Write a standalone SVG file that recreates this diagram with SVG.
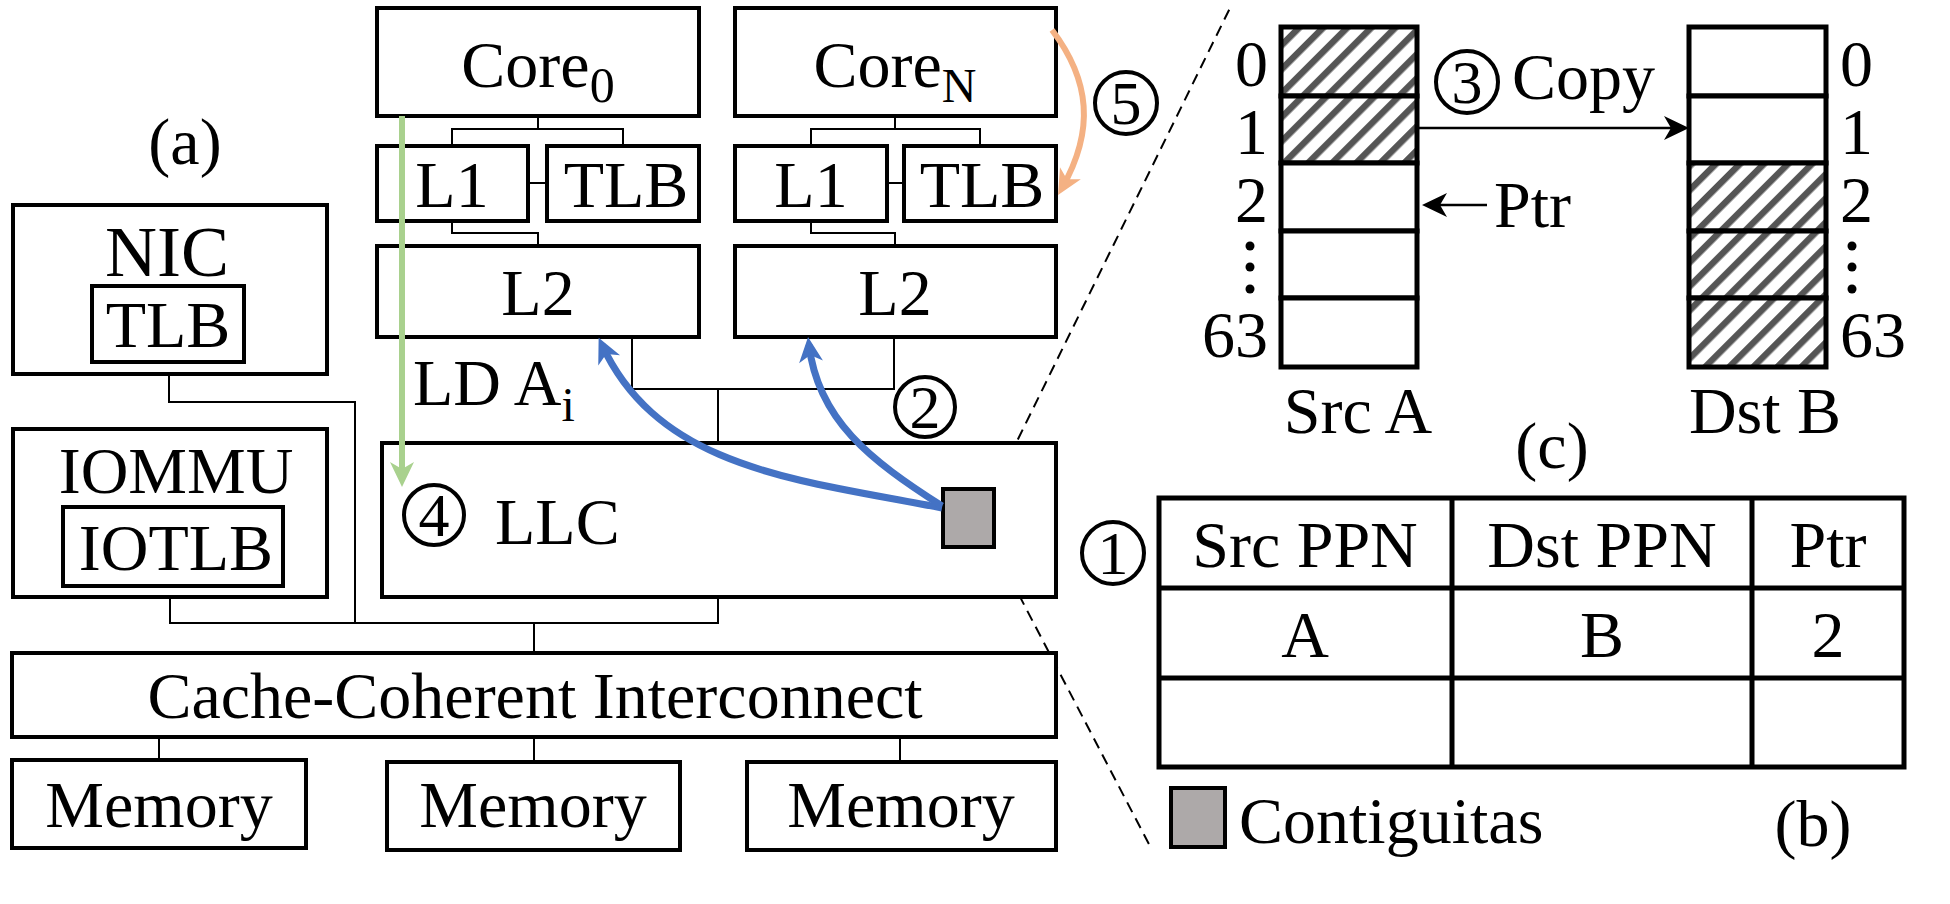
<svg xmlns="http://www.w3.org/2000/svg" width="1950" height="904" viewBox="0 0 1950 904">
<style>
.box{fill:#fff;stroke:#000;stroke-width:4}
.cell{fill:#fff;stroke:#000;stroke-width:5}
.hcell{fill:url(#hatch);stroke:#000;stroke-width:5}
.wire{fill:none;stroke:#000;stroke-width:2}
.t{font-family:"Liberation Serif","Times New Roman",serif;font-size:66px;fill:#000}
.c{text-anchor:middle}
.circ{fill:none;stroke:#000;stroke-width:4}
.dash{fill:none;stroke:#000;stroke-width:2;stroke-dasharray:11 7}
</style>
<defs>
<pattern id="hatch" patternUnits="userSpaceOnUse" width="17" height="17" patternTransform="rotate(45)">
<rect width="17" height="17" fill="#fff"/><rect x="0" y="0" width="6.5" height="17" fill="#555555"/>
</pattern>
<marker id="ahBlue" markerUnits="userSpaceOnUse" viewBox="-26 -13 28 26" markerWidth="28" markerHeight="26" refX="-8" refY="0" orient="auto"><path d="M0,0 L-25,-12 L-18,0 L-25,12 Z" fill="#4472C4"/></marker>
<marker id="ahGreen" markerUnits="userSpaceOnUse" viewBox="-26 -13 28 26" markerWidth="28" markerHeight="26" refX="-8" refY="0" orient="auto"><path d="M0,0 L-25,-12 L-18,0 L-25,12 Z" fill="#A9D18E"/></marker>
<marker id="ahOrange" markerUnits="userSpaceOnUse" viewBox="-26 -13 28 26" markerWidth="28" markerHeight="26" refX="-8" refY="0" orient="auto"><path d="M0,0 L-25,-12 L-18,0 L-25,12 Z" fill="#F4B183"/></marker>
<marker id="ahBlack" markerUnits="userSpaceOnUse" viewBox="-26 -13 28 26" markerWidth="28" markerHeight="26" refX="-6" refY="0" orient="auto"><path d="M0,0 L-25,-12 L-18,0 L-25,12 Z" fill="#000"/></marker>
</defs>
<rect width="1950" height="904" fill="#fff"/>

<g id="connectors">
<path class="wire" d="M538,116 V129 M452,146 V129 H623 V146"/>
<path class="wire" d="M452,221 V233 H538 V246"/>
<path class="wire" d="M528,183 H547"/>
<path class="wire" d="M895,116 V129 M811,146 V129 H980 V146"/>
<path class="wire" d="M811,221 V233 H895 V246"/>
<path class="wire" d="M887,183 H904"/>
<path class="wire" d="M632,337 V389 H894 V337 M718,389 V443"/>
<path class="wire" d="M169,374 V402 H355 V623"/>
<path class="wire" d="M170,597 V623 H718 V597 M534,623 V653"/>
<path class="wire" d="M159,737 V760 M534,737 V762 M900,737 V762"/>
<path class="dash" d="M994,488 L1230,8"/>
<path class="dash" d="M994,547 L1152,850"/>
</g>

<g id="label-a"><text class="t c" x="185" y="164">(a)</text></g>

<g id="nic">
<rect class="box" x="13" y="205" width="314" height="169"/>
<text class="t c" x="167" y="276" style="font-size:72px">NIC</text>
<rect class="box" x="92" y="286" width="152" height="76"/>
<text class="t c" x="168" y="347">TLB</text>
</g>

<g id="iommu">
<rect class="box" x="13" y="429" width="314" height="168"/>
<text class="t c" x="176" y="493">IOMMU</text>
<rect class="box" x="63" y="507" width="220" height="79"/>
<text class="t c" x="176" y="570">IOTLB</text>
</g>

<g id="core0">
<rect class="box" x="377" y="8" width="322" height="108"/>
<text class="t c" x="538" y="87">Core<tspan style="font-size:50px" dy="15">0</tspan></text>
</g>
<g id="l1-0"><rect class="box" x="377" y="146" width="151" height="75"/><text class="t c" x="452" y="207">L1</text></g>
<g id="tlb-0"><rect class="box" x="547" y="146" width="152" height="75"/><text class="t c" x="626" y="207">TLB</text></g>
<g id="l2-0"><rect class="box" x="377" y="246" width="322" height="91"/><text class="t c" x="538" y="315">L2</text></g>

<g id="coreN">
<rect class="box" x="735" y="8" width="321" height="108"/>
<text class="t c" x="895" y="87">Core<tspan style="font-size:48px" dy="15">N</tspan></text>
</g>
<g id="l1-N"><rect class="box" x="735" y="146" width="152" height="75"/><text class="t c" x="811" y="207">L1</text></g>
<g id="tlb-N"><rect class="box" x="904" y="146" width="152" height="75"/><text class="t c" x="982" y="207">TLB</text></g>
<g id="l2-N"><rect class="box" x="735" y="246" width="321" height="91"/><text class="t c" x="895" y="315">L2</text></g>

<g id="llc">
<rect class="box" x="382" y="443" width="674" height="154"/>
<circle class="circ" cx="434" cy="515" r="30"/>
<text class="t c" x="434" y="536" style="font-size:62px">4</text>
<text class="t" x="495" y="544">LLC</text>
<rect x="943" y="489" width="51" height="58" fill="#ADA9A9" stroke="#000" stroke-width="4"/>
</g>

<g id="cci">
<rect class="box" x="12" y="653" width="1044" height="84"/>
<text class="t c" x="535" y="718">Cache-Coherent Interconnect</text>
</g>
<g id="mem1"><rect class="box" x="12" y="760" width="294" height="88"/><text class="t c" x="159" y="827">Memory</text></g>
<g id="mem2"><rect class="box" x="387" y="762" width="293" height="88"/><text class="t c" x="533" y="827">Memory</text></g>
<g id="mem3"><rect class="box" x="747" y="762" width="309" height="88"/><text class="t c" x="901" y="827">Memory</text></g>

<g id="arrows">
<path d="M402,116 V479" fill="none" stroke="#A9D18E" stroke-width="6" marker-end="url(#ahGreen)"/>
<text class="t" x="413" y="405">LD A<tspan style="font-size:48px" dy="16">i</tspan></text>
<path d="M942,508 C800,480 660,470 602,345" fill="none" stroke="#4472C4" stroke-width="7" marker-end="url(#ahBlue)"/>
<path d="M942,506 C870,460 818,420 809,345" fill="none" stroke="#4472C4" stroke-width="7" marker-end="url(#ahBlue)"/>
<circle class="circ" cx="925" cy="407" r="30"/>
<text class="t c" x="925" y="428" style="font-size:62px">2</text>
<path d="M1052,30 C1090,80 1095,130 1062,188" fill="none" stroke="#F4B183" stroke-width="6" marker-end="url(#ahOrange)"/>
<circle class="circ" cx="1126" cy="103" r="31"/>
<text class="t c" x="1126" y="124" style="font-size:62px">5</text>
</g>

<g id="src-a">
<rect class="hcell" x="1281" y="27" width="136" height="69"/>
<rect class="hcell" x="1281" y="96" width="136" height="67"/>
<rect class="cell" x="1281" y="163" width="136" height="68"/>
<rect class="cell" x="1281" y="231" width="136" height="67"/>
<rect class="cell" x="1281" y="298" width="136" height="69"/>
<text class="t" text-anchor="end" x="1268" y="86">0</text>
<text class="t" text-anchor="end" x="1268" y="154">1</text>
<text class="t" text-anchor="end" x="1268" y="222">2</text>
<circle cx="1250" cy="246" r="4.5"/><circle cx="1250" cy="267" r="4.5"/><circle cx="1250" cy="289" r="4.5"/>
<text class="t" text-anchor="end" x="1268" y="357">63</text>
<text class="t c" x="1358" y="433">Src A</text>
</g>

<g id="dst-b">
<rect class="cell" x="1689" y="27" width="137" height="69"/>
<rect class="cell" x="1689" y="96" width="137" height="67"/>
<rect class="hcell" x="1689" y="163" width="137" height="68"/>
<rect class="hcell" x="1689" y="231" width="137" height="67"/>
<rect class="hcell" x="1689" y="298" width="137" height="69"/>
<text class="t" x="1840" y="86">0</text>
<text class="t" x="1840" y="154">1</text>
<text class="t" x="1840" y="222">2</text>
<circle cx="1852" cy="246" r="4.5"/><circle cx="1852" cy="267" r="4.5"/><circle cx="1852" cy="289" r="4.5"/>
<text class="t" x="1840" y="357">63</text>
<text class="t c" x="1765" y="433">Dst B</text>
</g>

<g id="copy">
<path d="M1417,128 H1683" fill="none" stroke="#000" stroke-width="2.5" marker-end="url(#ahBlack)"/>
<circle class="circ" cx="1467" cy="82" r="31"/>
<text class="t c" x="1467" y="103" style="font-size:62px">3</text>
<text class="t" x="1512" y="99">Copy</text>
<path d="M1487,205 H1428" fill="none" stroke="#000" stroke-width="2.5" marker-end="url(#ahBlack)"/>
<text class="t" x="1494" y="227">Ptr</text>
<text class="t c" x="1552" y="468">(c)</text>
</g>

<g id="table">
<circle class="circ" cx="1113" cy="553" r="31"/>
<text class="t c" x="1113" y="574" style="font-size:62px">1</text>
<rect class="cell" x="1159" y="498" width="745" height="269"/>
<path d="M1159,588 H1904 M1159,678 H1904 M1452,498 V767 M1752,498 V767" stroke="#000" stroke-width="5" fill="none"/>
<text class="t c" x="1305" y="567">Src PPN</text>
<text class="t c" x="1602" y="567">Dst PPN</text>
<text class="t c" x="1828" y="567">Ptr</text>
<text class="t c" x="1305" y="657">A</text>
<text class="t c" x="1602" y="657">B</text>
<text class="t c" x="1828" y="657">2</text>
</g>

<g id="legend">
<rect x="1171" y="788" width="54" height="59" fill="#ADA9A9" stroke="#000" stroke-width="4"/>
<text class="t" x="1239" y="843">Contiguitas</text>
<text class="t c" x="1813" y="846">(b)</text>
</g>
</svg>
